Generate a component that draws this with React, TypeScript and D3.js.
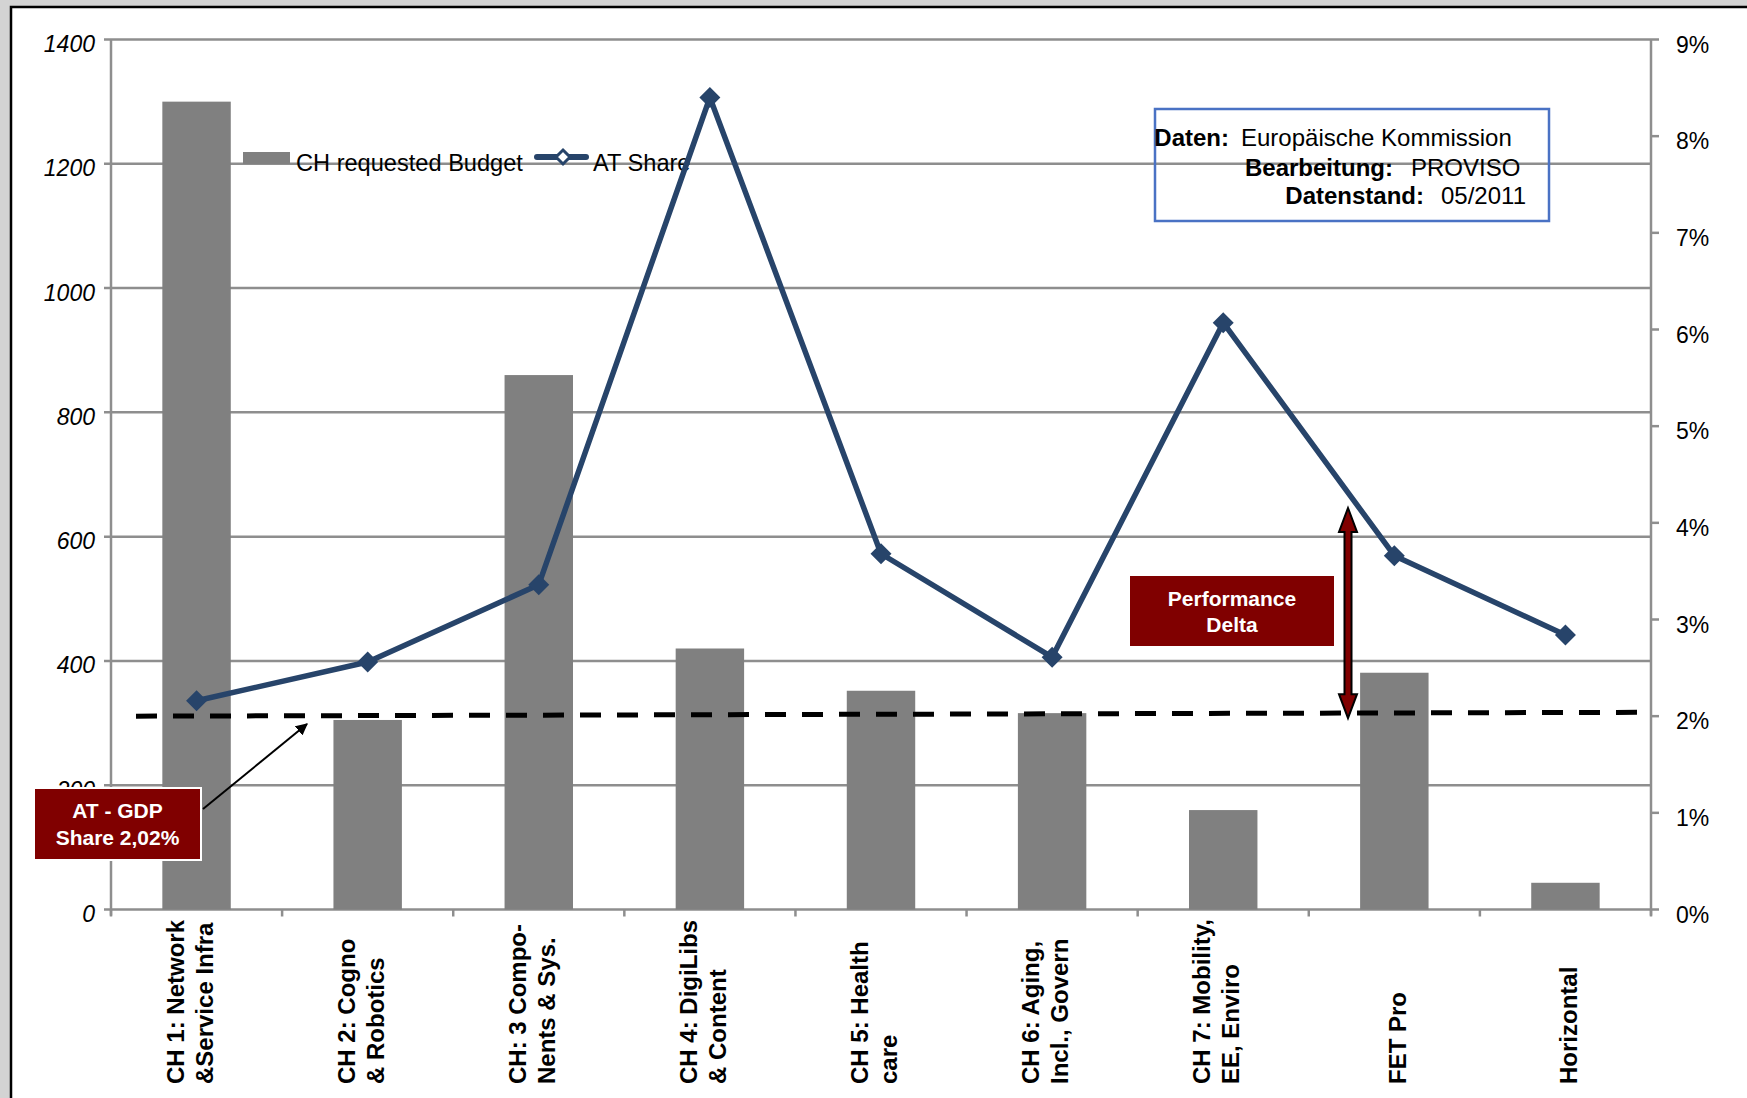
import React from "react";
import * as d3 from "d3";

// categories (x axis), two-line labels
const categories = ["CH1", "CH2", "CH3", "CH4", "CH5", "CH6", "CH7", "FET", "HOR"];
const categoryLabels: string[][] = [
  ["CH 1: Network", "&Service Infra"],
  ["CH 2: Cogno", "& Robotics"],
  ["CH: 3 Compo-", "Nents & Sys."],
  ["CH 4: DigiLibs", "& Content"],
  ["CH 5: Health", "care"],
  ["CH 6: Aging,", "Incl., Govern"],
  ["CH 7: Mobility,", "EE, Enviro"],
  ["FET Pro"],
  ["Horizontal"],
];

// CH requested Budget (left axis)
const budget = [1300, 305, 860, 420, 352, 316, 160, 381, 43];
// AT Share in % (right axis)
const atShare = [2.16, 2.56, 3.36, 8.4, 3.68, 2.61, 6.07, 3.66, 2.84];

const leftTicks = [0, 200, 400, 600, 800, 1000, 1200, 1400];
const rightTicks = [0, 1, 2, 3, 4, 5, 6, 7, 8, 9];

// AT - GDP share reference line (drawn slightly sloped as in source)
const gdpShareStart = 2.0;
const gdpShareEnd = 2.04;

const sourceLines = [
  { label: "Daten:", value: "Europäische Kommission" },
  { label: "Bearbeitung:", value: "PROVISO" },
  { label: "Datenstand:", value: "05/2011" },
];

const W = 1747;
const H = 1098;
const plot = { left: 111, right: 1651, top: 39.5, bottom: 909.5 };
const FONT = "'Liberation Sans', Arial, Helvetica, sans-serif";
const GRID = "#8e8e8e";
const NAVY = "#27446a";
const DARKRED = "#800000";

const diamond = (cx: number, cy: number, r: number) =>
  `M${cx},${cy - r}L${cx + r},${cy}L${cx},${cy + r}L${cx - r},${cy}Z`;

export default function App() {
  const x = d3
    .scaleBand<string>()
    .domain(categories)
    .range([plot.left, plot.right])
    .paddingInner(0.6)
    .paddingOuter(0.3);
  const step = x.step();
  const yL = d3.scaleLinear().domain([0, 1400]).range([plot.bottom, plot.top]);
  const yR = d3.scaleLinear().domain([0, 9]).range([plot.bottom, plot.top]);
  const cx = (c: string) => (x(c) || 0) + x.bandwidth() / 2;

  const linePath = d3
    .line<number>()
    .x((_, i) => cx(categories[i]))
    .y((d) => yR(d))(atShare);

  const boundaries = d3.range(categories.length + 1).map((i) => plot.left + i * step);

  // source box positions
  const srcLabelEnd = [1229, 1393, 1424];
  const srcValueStart = [1241, 1411, 1441];
  const srcBase = [146, 176, 204];

  const arrowX = 1348;
  const arrowTop = 508;
  const arrowBottom = yR(gdpShareStart) + 2;

  return (
    <div style={{ position: "absolute", left: 0, top: 0 }}>
      <svg width={W} height={H} style={{ display: "block", fontFamily: FONT }}>
        <defs>
          <marker id="arrowBlack" viewBox="0 0 10 10" refX="9" refY="5" markerWidth="6" markerHeight="6" orient="auto">
            <path d="M0,0L10,5L0,10Z" fill="#000" />
          </marker>
        </defs>
        {/* frame */}
        <rect x={0} y={0} width={W} height={H} fill="#d3d3d3" />
        <rect x={11} y={7} width={W} height={H} fill="#fff" stroke="#000" strokeWidth={2.5} />

        {/* gridlines */}
        {leftTicks.map((t) => (
          <line key={"g" + t} x1={plot.left - 7} x2={plot.right} y1={yL(t)} y2={yL(t)} stroke={GRID} strokeWidth={2.5} />
        ))}
        {/* left axis */}
        <line x1={plot.left} x2={plot.left} y1={plot.top} y2={plot.bottom + 6} stroke={GRID} strokeWidth={2.5} />
        {leftTicks.map((t) => (
          <text key={"lt" + t} x={95} y={yL(t) + 12.5} textAnchor="end" fontSize={23} fontStyle="italic" fill="#000">
            {t}
          </text>
        ))}
        {/* right axis */}
        <line x1={plot.right} x2={plot.right} y1={plot.top} y2={plot.bottom + 6} stroke={GRID} strokeWidth={2.5} />
        {rightTicks.map((t) => (
          <g key={"rt" + t}>
            <line x1={plot.right} x2={plot.right + 8} y1={yR(t)} y2={yR(t)} stroke={GRID} strokeWidth={2.5} />
            <text x={1676} y={yR(t) + 13} fontSize={23} fill="#000">
              {t}%
            </text>
          </g>
        ))}
        {/* x ticks */}
        {boundaries.map((b, i) => (
          <line key={"xt" + i} x1={b} x2={b} y1={plot.bottom} y2={plot.bottom + 7} stroke={GRID} strokeWidth={2.5} />
        ))}

        {/* bars */}
        {categories.map((c, i) => (
          <rect key={c} x={x(c)} y={yL(budget[i])} width={x.bandwidth()} height={plot.bottom - yL(budget[i])} fill="#808080" />
        ))}

        {/* legend */}
        <rect x={243} y={152} width={47} height={12} fill="#808080" />
        <text x={296} y={171} fontSize={23.6} fill="#000">CH requested Budget</text>
        <line x1={537} x2={586} y1={157} y2={157} stroke={NAVY} strokeWidth={6} strokeLinecap="round" />
        <path d={diamond(563, 157, 7)} fill="#fff" stroke={NAVY} strokeWidth={3} />
        <text x={593} y={171} fontSize={23.6} fill="#000">AT Share</text>

        {/* GDP share dashed line */}
        <line
          x1={136}
          x2={plot.right}
          y1={yR(gdpShareStart)}
          y2={yR(gdpShareEnd)}
          stroke="#000"
          strokeWidth={5}
          strokeDasharray="21 16"
        />

        {/* AT share line */}
        <path d={linePath || ""} fill="none" stroke={NAVY} strokeWidth={5.5} strokeLinejoin="round" />
        {atShare.map((v, i) => (
          <path key={"m" + i} d={diamond(cx(categories[i]), yR(v), 10.5)} fill={NAVY} />
        ))}

        {/* x labels */}
        {categories.map((c, i) => {
          const lines = categoryLabels[i];
          const center = cx(c);
          const offs = lines.length === 2 ? [-13, 16] : [12];
          return lines.map((ln, j) => (
            <text
              key={c + j}
              transform={`translate(${center + offs[j]},1084) rotate(-90)`}
              fontSize={24}
              fontWeight="bold"
              fill="#000"
            >
              {ln}
            </text>
          ));
        })}

        {/* source box */}
        <rect x={1155} y={109} width={394} height={112} fill="none" stroke="#4a72c4" strokeWidth={2.5} />
        {sourceLines.map((s, i) => (
          <g key={s.label}>
            <text x={srcLabelEnd[i]} y={srcBase[i]} textAnchor="end" fontSize={24} fontWeight="bold" fill="#000">
              {s.label}
            </text>
            <text x={srcValueStart[i]} y={srcBase[i]} fontSize={24} fill="#000">
              {s.value}
            </text>
          </g>
        ))}

        {/* performance delta */}
        <rect x={1130} y={576} width={204} height={70} fill={DARKRED} />
        <text x={1232} y={606} textAnchor="middle" fontSize={21} fontWeight="bold" fill="#fff">Performance</text>
        <text x={1232} y={632} textAnchor="middle" fontSize={21} fontWeight="bold" fill="#fff">Delta</text>
        <path
          d={`M${arrowX},${arrowTop} L${arrowX + 9},${arrowTop + 24} L${arrowX + 3.5},${arrowTop + 24} L${arrowX + 3.5},${arrowBottom - 24} L${arrowX + 9},${arrowBottom - 24} L${arrowX},${arrowBottom} L${arrowX - 9},${arrowBottom - 24} L${arrowX - 3.5},${arrowBottom - 24} L${arrowX - 3.5},${arrowTop + 24} L${arrowX - 9},${arrowTop + 24} Z`}
          fill={DARKRED}
          stroke="#000"
          strokeWidth={2}
          strokeLinejoin="miter"
        />

        {/* AT - GDP share box */}
        <line x1={203} y1={809} x2={307} y2={724} stroke="#000" strokeWidth={2} markerEnd="url(#arrowBlack)" />
        <rect x={34} y={788} width={167} height={72} fill={DARKRED} stroke="#fff" strokeWidth={2} />
        <text x={117.5} y={818} textAnchor="middle" fontSize={21} fontWeight="bold" fill="#fff">AT - GDP</text>
        <text x={117.5} y={845} textAnchor="middle" fontSize={21} fontWeight="bold" fill="#fff">Share 2,02%</text>
      </svg>
    </div>
  );
}
